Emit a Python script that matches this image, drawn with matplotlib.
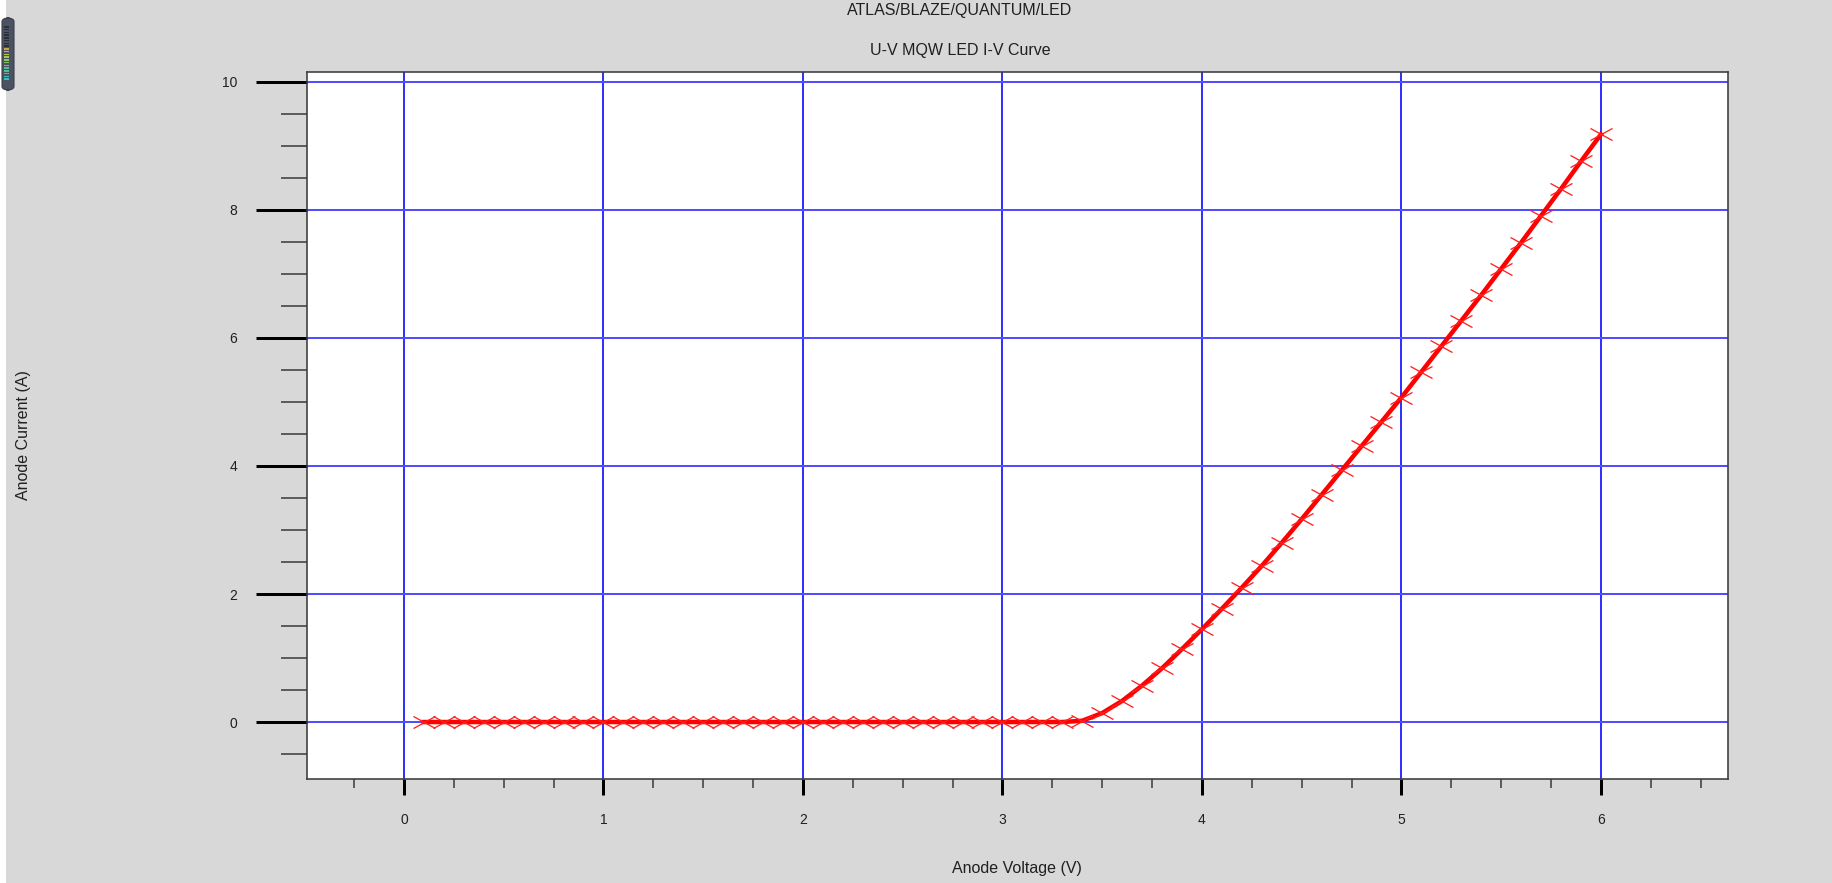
import matplotlib
matplotlib.use("Agg")
import matplotlib.pyplot as plt
from matplotlib.path import Path
from matplotlib.patches import FancyBboxPatch, Rectangle
from matplotlib.ticker import MultipleLocator

# I-V sweep
voltage = [0.1, 0.2, 0.3, 0.4, 0.5, 0.6, 0.7, 0.8, 0.9, 1.0,
           1.1, 1.2, 1.3, 1.4, 1.5, 1.6, 1.7, 1.8, 1.9, 2.0,
           2.1, 2.2, 2.3, 2.4, 2.5, 2.6, 2.7, 2.8, 2.9, 3.0,
           3.1, 3.2, 3.3, 3.4, 3.5, 3.6, 3.7, 3.8, 3.9, 4.0,
           4.1, 4.2, 4.3, 4.4, 4.5, 4.6, 4.7, 4.8, 4.9, 5.0,
           5.1, 5.2, 5.3, 5.4, 5.5, 5.6, 5.7, 5.8, 5.9, 6.0]
current = [0.0, 0.0, 0.0, 0.0, 0.0, 0.0, 0.0, 0.0, 0.0, 0.0,
           0.0, 0.0, 0.0, 0.0, 0.0, 0.0, 0.0, 0.0, 0.0, 0.0,
           0.0, 0.0, 0.0, 0.0, 0.0, 0.0, 0.0, 0.0, 0.0, 0.0,
           0.0, 0.0, 0.0, 0.02, 0.14, 0.33, 0.57, 0.84, 1.14, 1.45,
           1.77, 2.10, 2.44, 2.80, 3.17, 3.55, 3.93, 4.31, 4.69, 5.07,
           5.47, 5.87, 6.27, 6.67, 7.08, 7.49, 7.91, 8.33, 8.76, 9.18]

x_ticks = [0, 1, 2, 3, 4, 5, 6]
y_ticks = [0, 2, 4, 6, 8, 10]

TITLE = "ATLAS/BLAZE/QUANTUM/LED"
SUBTITLE = "U-V MQW LED I-V Curve"
XLABEL = "Anode Voltage (V)"
YLABEL = "Anode Current (A)"

BG = "#d8d8d8"
W, H = 1833, 883

plt.rcParams["font.family"] = ["Liberation Sans", "DejaVu Sans"]


def px(v):
    # pixels -> points at dpi 100
    return v * 0.72


def draw_widget(fig):
    # little level meter in the top-left corner of the screenshot
    fig.patches.append(Rectangle((0, 0), 6 / W, 1, transform=fig.transFigure,
                                 facecolor="white", edgecolor="none"))
    fig.patches.append(FancyBboxPatch((2 / W, 1 - 90 / H), 12 / W, 72 / H,
                                      boxstyle="round,pad=0,rounding_size=0.004",
                                      transform=fig.transFigure,
                                      facecolor="#4b5262", edgecolor="#3a404c", lw=0.8))
    colours = ["#2c2f36"] * 8 + ["#c9a640", "#c8b446", "#bcc04e", "#a8c258",
                                 "#90c262", "#7cc06c", "#68be7c", "#58bc8c",
                                 "#4cbc9c", "#44bcac", "#40bcb8", "#40bcc0"]
    for i, c in enumerate(colours):
        y = 1 - (26 + i * 2.75) / H
        fig.patches.append(Rectangle((4 / W, y - 1.5 / H), 5 / W, 1.5 / H,
                                     transform=fig.transFigure,
                                     facecolor=c, edgecolor="none"))


def main():
    fig = plt.figure(figsize=(W / 100, H / 100), dpi=100, facecolor=BG)
    ax = fig.add_axes([307 / W, 1 - 779 / H, (1728 - 307) / W, (779 - 71.7) / H])
    ax.set_facecolor("white")

    ax.set_xlim(-0.486, 6.637)
    ax.set_ylim(-0.89, 10.16)

    ax.xaxis.set_major_locator(MultipleLocator(1))
    ax.xaxis.set_minor_locator(MultipleLocator(0.25))
    ax.yaxis.set_major_locator(MultipleLocator(2))
    ax.yaxis.set_minor_locator(MultipleLocator(0.5))
    ax.set_xticks(x_ticks)
    ax.set_yticks(y_ticks)

    for x in x_ticks:
        ax.axvline(x, color="#0000ff", lw=px(1.6), zorder=1)
    for y in y_ticks:
        ax.axhline(y, color="#4f4fff", lw=px(2.0), zorder=1)

    cross = Path([(-1, -0.55), (1, 0.55), (-1, 0.55), (1, -0.55)],
                 [Path.MOVETO, Path.LINETO, Path.MOVETO, Path.LINETO])
    ax.plot(voltage, current, color="#ff0000", lw=px(4.5), zorder=3,
            marker=cross, markersize=px(22), markerfacecolor="none",
            markeredgecolor="#ff2020", markeredgewidth=px(1.3))

    ax.tick_params(axis="y", which="major", length=px(51), width=px(3),
                   color="black", pad=px(19), labelsize=10, labelcolor="#202020")
    ax.tick_params(axis="y", which="minor", length=px(26), width=px(1.6),
                   color="#404040")
    ax.tick_params(axis="x", which="major", length=px(16), width=px(3),
                   color="black", pad=px(18), labelsize=10, labelcolor="#202020")
    ax.tick_params(axis="x", which="minor", length=px(9), width=px(1.6),
                   color="#404040")

    for s in ax.spines.values():
        s.set_color("#3c3c3c")
        s.set_linewidth(px(1.6))

    fig.text(960 / W, 1 - 10 / H, TITLE, ha="center", va="center",
             fontsize=11.5, color="#202020")
    fig.text(960 / W, 1 - 50 / H, SUBTITLE, ha="center", va="center",
             fontsize=11.5, color="#202020")
    fig.text(1017 / W, 1 - 868 / H, XLABEL, ha="center", va="center",
             fontsize=11.5, color="#202020")
    fig.text(24 / W, 1 - 435 / H, YLABEL, ha="center", va="center",
             rotation=90, fontsize=11.5, color="#202020")

    draw_widget(fig)
    fig.savefig("out.png", dpi=100, facecolor=BG)


if __name__ == "__main__":
    main()
